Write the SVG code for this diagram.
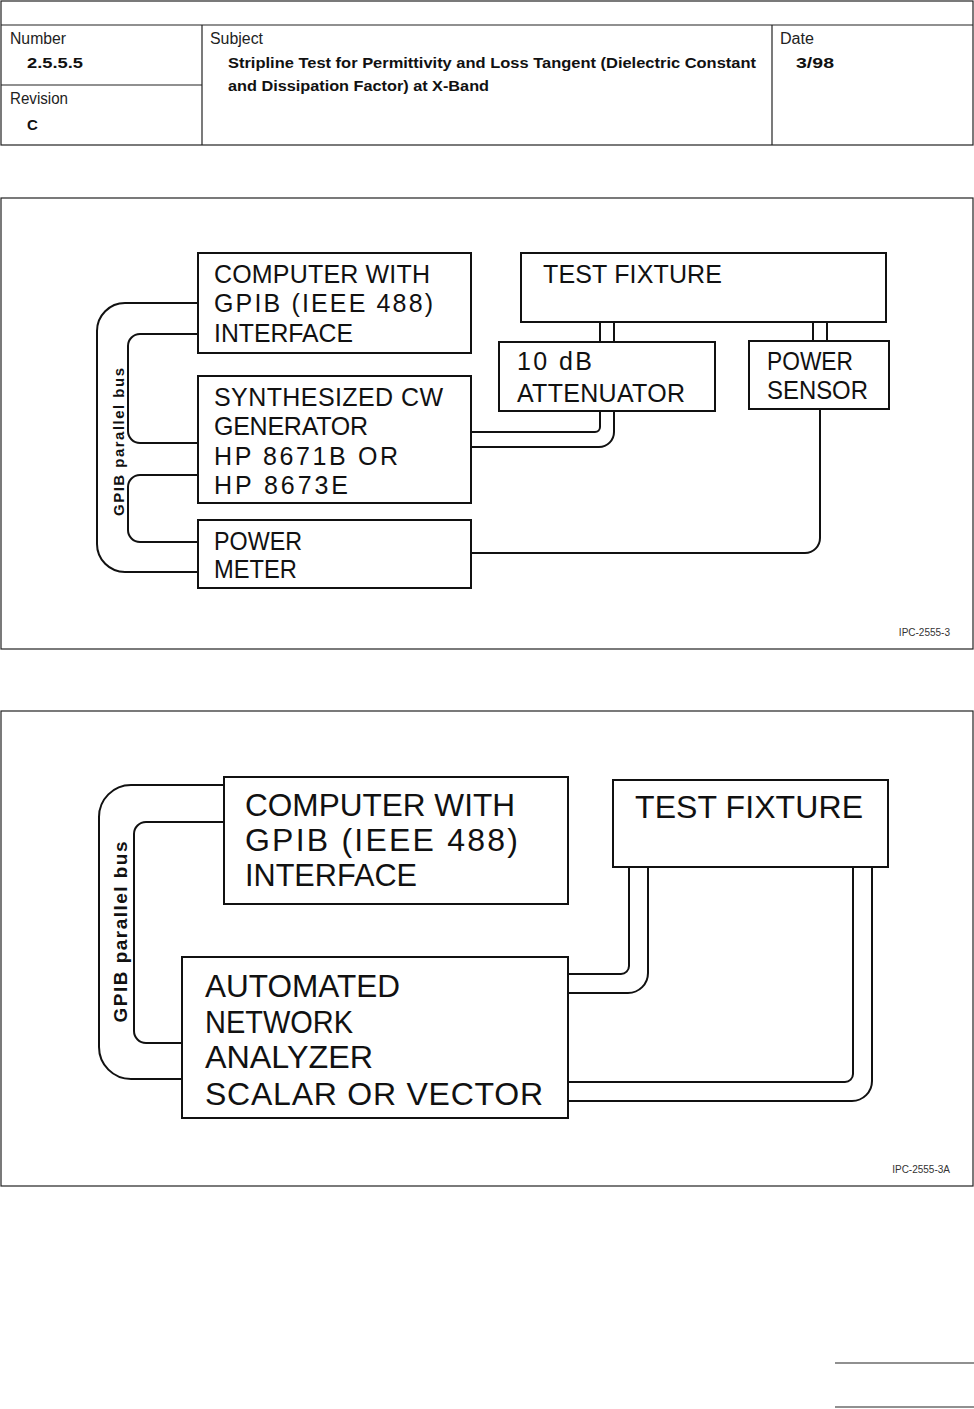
<svg xmlns="http://www.w3.org/2000/svg" width="974" height="1409" viewBox="0 0 974 1409">
<style>
.hl{stroke:#222;stroke-width:1.2;fill:none}
.frame{stroke:#222;stroke-width:1.2;fill:none}
.box{stroke:#111;stroke-width:2;fill:#fff}
.wire{stroke:#111;stroke-width:2;fill:none}
.hd{font-family:"Liberation Sans",Arial,sans-serif;font-size:16px;fill:#222}
.hb{font-family:"Liberation Sans",Arial,sans-serif;font-size:15px;font-weight:bold;fill:#111}
.t1{font-family:"Liberation Sans",Arial,sans-serif;font-size:25px;fill:#111}
.t2{font-family:"Liberation Sans",Arial,sans-serif;font-size:32px;fill:#111}
.bus{font-family:"Liberation Sans",Arial,sans-serif;font-weight:bold;fill:#111;text-anchor:middle}
.ipc{font-family:"Liberation Sans",Arial,sans-serif;font-size:10px;fill:#333}
</style>
<rect width="974" height="1409" fill="#fff"/>
<g id="header">
<rect class="hl" x="1" y="1" width="972" height="144"/>
<line class="hl" x1="1" y1="25" x2="973" y2="25"/>
<line class="hl" x1="202" y1="25" x2="202" y2="145"/>
<line class="hl" x1="772" y1="25" x2="772" y2="145"/>
<line class="hl" x1="1" y1="85" x2="202" y2="85"/>
<text class="hd" x="10" y="44" textLength="56" lengthAdjust="spacingAndGlyphs">Number</text>
<text class="hb" x="27" y="68" textLength="56" lengthAdjust="spacingAndGlyphs">2.5.5.5</text>
<text class="hd" x="10" y="104" textLength="58" lengthAdjust="spacingAndGlyphs">Revision</text>
<text class="hb" x="27" y="130">C</text>
<text class="hd" x="210" y="44" textLength="53" lengthAdjust="spacingAndGlyphs">Subject</text>
<text class="hb" x="228" y="68" textLength="528" lengthAdjust="spacingAndGlyphs">Stripline Test for Permittivity and Loss Tangent (Dielectric Constant</text>
<text class="hb" x="228" y="91" textLength="261" lengthAdjust="spacingAndGlyphs">and Dissipation Factor) at X-Band</text>
<text class="hd" x="780" y="44" textLength="34" lengthAdjust="spacingAndGlyphs">Date</text>
<text class="hb" x="796" y="68" textLength="38" lengthAdjust="spacingAndGlyphs">3/98</text>
</g>
<g id="figure1">
<rect class="frame" x="1" y="198" width="972" height="451"/>
<g id="connectors1">
<path class="wire" d="M198,303 H125 A28,28 0 0 0 97,331 V544 A28,28 0 0 0 125,572 H198"/>
<path class="wire" d="M198,334 H140 A12,12 0 0 0 128,346 V431 A12,12 0 0 0 140,443 H198"/>
<path class="wire" d="M198,475 H140 A12,12 0 0 0 128,487 V530 A12,12 0 0 0 140,542 H198"/>
<path class="wire" d="M600,411 V427 A5,5 0 0 1 595,432 H471"/>
<path class="wire" d="M614,411 V432 A15,15 0 0 1 599,447 H471"/>
<path class="wire" d="M600,322 V342 M614,322 V342"/>
<path class="wire" d="M813,322 V341 M827,322 V341"/>
<path class="wire" d="M820,409 V538 A15,15 0 0 1 805,553 H471"/>
<text class="bus" font-size="15" transform="translate(124,442) rotate(-90)" textLength="148">GPIB parallel bus</text>
</g>
<g id="computer1">
<rect class="box" x="198" y="253" width="273" height="100"/>
<text class="t1" x="214" y="283" textLength="216">COMPUTER WITH</text>
<text class="t1" x="214" y="312" textLength="219">GPIB (IEEE 488)</text>
<text class="t1" x="214" y="342" textLength="139" lengthAdjust="spacingAndGlyphs">INTERFACE</text>
</g>
<g id="generator1">
<rect class="box" x="198" y="376" width="273" height="127"/>
<text class="t1" x="214" y="406" textLength="229">SYNTHESIZED CW</text>
<text class="t1" x="214" y="435" textLength="154">GENERATOR</text>
<text class="t1" x="214" y="465" textLength="184">HP 8671B OR</text>
<text class="t1" x="214" y="494" textLength="134">HP 8673E</text>
</g>
<g id="meter1">
<rect class="box" x="198" y="520" width="273" height="68"/>
<text class="t1" x="214" y="550" textLength="88" lengthAdjust="spacingAndGlyphs">POWER</text>
<text class="t1" x="214" y="578" textLength="83" lengthAdjust="spacingAndGlyphs">METER</text>
</g>
<g id="fixture1">
<rect class="box" x="521" y="253" width="365" height="69"/>
<text class="t1" x="543" y="283" textLength="179">TEST FIXTURE</text>
</g>
<g id="attenuator1">
<rect class="box" x="499" y="342" width="216" height="69"/>
<text class="t1" x="517" y="370" textLength="75">10 dB</text>
<text class="t1" x="517" y="402" textLength="168">ATTENUATOR</text>
</g>
<g id="sensor1">
<rect class="box" x="749" y="341" width="140" height="68"/>
<text class="t1" x="767" y="370" textLength="86" lengthAdjust="spacingAndGlyphs">POWER</text>
<text class="t1" x="767" y="399" textLength="101" lengthAdjust="spacingAndGlyphs">SENSOR</text>
</g>
<text class="ipc" x="950" y="636" text-anchor="end">IPC-2555-3</text>
</g>
<g id="figure2">
<rect class="frame" x="1" y="711" width="972" height="475"/>
<g id="connectors2">
<path class="wire" d="M224,785 H131 A32,32 0 0 0 99,817 V1047 A32,32 0 0 0 131,1079 H182"/>
<path class="wire" d="M224,822 H146 A12,12 0 0 0 134,834 V1031 A12,12 0 0 0 146,1043 H182"/>
<path class="wire" d="M629,867 V966 A8,8 0 0 1 621,974 H568"/>
<path class="wire" d="M648,867 V973 A20,20 0 0 1 628,993 H568"/>
<path class="wire" d="M853,867 V1074 A8,8 0 0 1 845,1082 H568"/>
<path class="wire" d="M872,867 V1081 A20,20 0 0 1 852,1101 H568"/>
<text class="bus" font-size="19" transform="translate(127,932) rotate(-90)" textLength="181">GPIB parallel bus</text>
</g>
<g id="computer2">
<rect class="box" x="224" y="777" width="344" height="127"/>
<text class="t2" x="245" y="816" textLength="270" lengthAdjust="spacingAndGlyphs">COMPUTER WITH</text>
<text class="t2" x="245" y="851" textLength="273">GPIB (IEEE 488)</text>
<text class="t2" x="245" y="886" textLength="172" lengthAdjust="spacingAndGlyphs">INTERFACE</text>
</g>
<g id="fixture2">
<rect class="box" x="613" y="780" width="275" height="87"/>
<text class="t2" x="635" y="818" textLength="228">TEST FIXTURE</text>
</g>
<g id="analyzer2">
<rect class="box" x="182" y="957" width="386" height="161"/>
<text class="t2" x="205" y="997" textLength="195" lengthAdjust="spacingAndGlyphs">AUTOMATED</text>
<text class="t2" x="205" y="1033" textLength="148" lengthAdjust="spacingAndGlyphs">NETWORK</text>
<text class="t2" x="205" y="1068" textLength="168" lengthAdjust="spacingAndGlyphs">ANALYZER</text>
<text class="t2" x="205" y="1105" textLength="338">SCALAR OR VECTOR</text>
</g>
<text class="ipc" x="950" y="1173" text-anchor="end">IPC-2555-3A</text>
</g>
<g id="footer">
<line class="hl" x1="835" y1="1363" x2="974" y2="1363"/>
<line class="hl" x1="835" y1="1407" x2="974" y2="1407"/>
</g>
</svg>
